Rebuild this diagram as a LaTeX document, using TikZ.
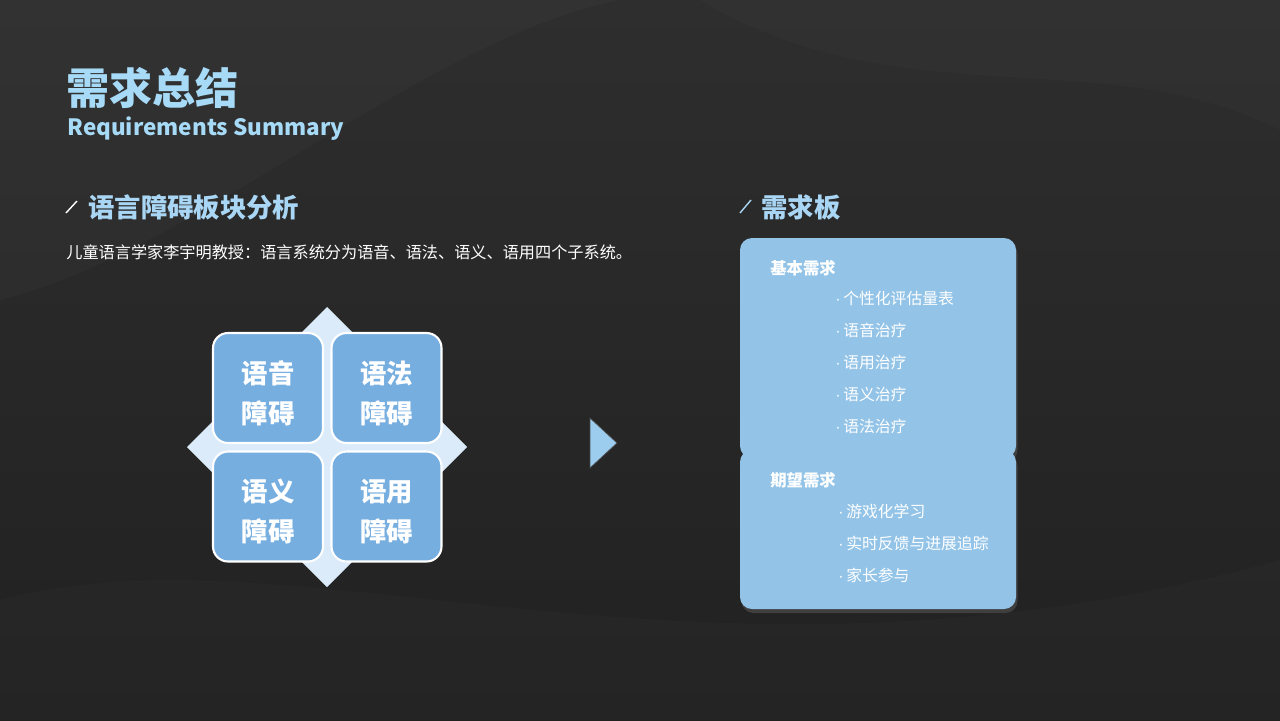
\documentclass[tikz,border=0pt]{standalone}
\usepackage{fontspec}
\setmainfont{Noto Sans CJK SC}
\newfontfamily\dotfont{Liberation Sans}
\usetikzlibrary{shadows}
\definecolor{bgtop}{HTML}{2E2E2E}
\definecolor{bgbottom}{HTML}{212121}
\definecolor{titlecolor}{HTML}{A6DAF7}
\definecolor{headcolor}{HTML}{A9D6F4}
\definecolor{tilecolor}{HTML}{76AEE0}
\definecolor{diamondcolor}{HTML}{DCEBFA}
\definecolor{cardcolor}{HTML}{93C4E8}
\definecolor{arrowcolor}{HTML}{9CCCEE}
\newcommand{\bul}{{\dotfont ·}\,}

\begin{document}
\begin{tikzpicture}[x=0.02cm,y=-0.02cm,
  tile/.style={fill=tilecolor,draw=white,line width=1.2pt,rounded corners=0.3cm,
    minimum width=2.2cm,minimum height=2.2cm,align=center,text=white,text height=41.5pt,
    font=\fontsize{15}{22.7}\selectfont\bfseries},
  head/.style={anchor=west,text=headcolor,inner sep=0pt,font=\fontsize{15}{18}\selectfont\bfseries},
  cardtitle/.style={anchor=west,text=white,inner sep=0pt,font=\fontsize{9.3}{11}\selectfont\bfseries},
  itemtext/.style={anchor=west,text=white,inner sep=0pt,font=\fontsize{9}{11}\selectfont},
  card/.style={fill=cardcolor,rounded corners=0.24cm,drop shadow={opacity=0.3,shadow xshift=0.03cm,shadow yshift=-0.08cm}}]
\useasboundingbox (0,0) rectangle (1280,720);
% background
\shade[top color=bgtop,bottom color=bgbottom] (0,0) rectangle (1280,720);
\fill[white,opacity=0.02] (0,0) -- (0,300) .. controls (200,250) and (420,40) .. (620,0) -- cycle;
\fill[white,opacity=0.015] (700,0) .. controls (900,120) and (1100,40) .. (1280,130) -- (1280,0) -- cycle;
\fill[white,opacity=0.015] (0,600) .. controls (300,520) and (700,720) .. (1280,560) -- (1280,720) -- (0,720) -- cycle;

% title
\node[anchor=west,text=titlecolor,inner sep=0pt,font=\fontsize{24.5}{26}\selectfont\bfseries] (title) at (66,88) {需求总结};
\node[anchor=west,text=titlecolor,inner sep=0pt,font=\fontsize{12.8}{15}\selectfont\bfseries] (subtitle) at (67,129) {Requirements Summary};

% left part
\draw[white!85,line width=0.8pt] (66,213) -- (77,201);
\node[head] (lefthead) at (88,207) {语言障碍板块分析};
\node[anchor=west,text=white,inner sep=0pt,font=\fontsize{9.2}{11}\selectfont] (quote) at (66,252) {儿童语言学家李宇明教授：语言系统分为语音、语法、语义、语用四个子系统。};

\fill[diamondcolor] (327,307) -- (467,447) -- (327,587) -- (187,447) -- cycle;
\node[tile] (phon) at (268,388) {语音\\障碍};
\node[tile] (gram) at (386.5,388) {语法\\障碍};
\node[tile] (sema) at (268,506.5) {语义\\障碍};
\node[tile] (prag) at (386.5,506.5) {语用\\障碍};

\fill[arrowcolor,draw=black!70,line width=0.4pt] (590,418) -- (617,443) -- (590,468) -- cycle;

% right part
\draw[headcolor,line width=0.8pt] (740,213) -- (751,200);
\node[head] (righthead) at (761,207) {需求板};

\path[card] (740,238) rectangle (1016,458);
\path[card] (740,450) rectangle (1016,609);

\node[cardtitle] (basic) at (770,268) {基本需求};
\foreach \y/\txt [count=\i] in {298/个性化评估量表, 330/语音治疗, 362/语用治疗, 394/语义治疗, 426/语法治疗}
    \node[itemtext] (basic\i) at (835,\y) {\bul\txt};
\node[cardtitle] (wish) at (770,480) {期望需求};
\foreach \y/\txt [count=\i] in {511/游戏化学习, 543/实时反馈与进展追踪, 575/家长参与}
    \node[itemtext] (wish\i) at (838,\y) {\bul\txt};
\end{tikzpicture}
\end{document}
